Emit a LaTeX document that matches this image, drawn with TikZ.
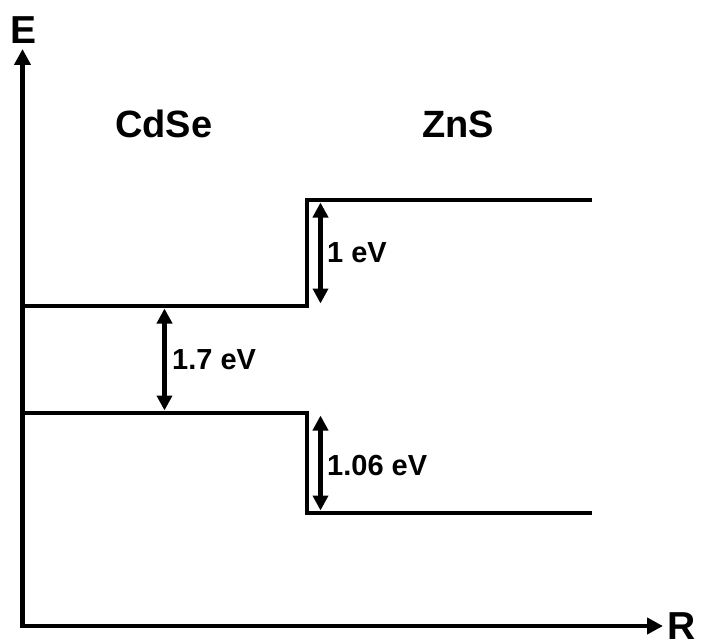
\documentclass[tikz,border=0pt]{standalone}
\usepackage{fontspec}
\setmainfont{Liberation Sans}
\usetikzlibrary{arrows.meta}
\begin{document}
\begin{tikzpicture}[x=1pt,y=-1pt,
  axis/.style={line width=4.7pt, line join=miter,
    {Triangle[length=16pt,width=16pt]}-{Triangle[length=16pt,width=16pt]}},
  band/.style={line width=4.7pt, line join=miter},
  gap/.style={line width=4.5pt,
    {Triangle[length=15pt,width=15pt]}-{Triangle[length=15pt,width=15pt]}},
  big/.style={inner sep=0pt, anchor=base west, font=\bfseries\fontsize{38}{40}\selectfont},
  axlab/.style={inner sep=0pt, anchor=base west, font=\bfseries\fontsize{39}{41}\selectfont},
  small/.style={inner sep=0pt, anchor=base west, font=\bfseries\fontsize{29}{31}\selectfont}]
\useasboundingbox (0,0) rectangle (702,642);
% axes
\coordinate (O) at (22.5,626);
\coordinate (Etip) at (22.5,49);
\coordinate (Rtip) at (663,626);
\draw[axis] (Etip) -- (O) -- (Rtip);
\node[axlab] (E) at (10,44) {E};
\node[axlab] (R) at (667,639) {R};
% materials
\node[big] (cdse) at (115,137) {CdSe};
\node[big] (zns) at (422,137) {ZnS};
% conduction band
\coordinate (c1) at (22.5,306);
\coordinate (c2) at (307,306);
\coordinate (c3) at (307,200);
\coordinate (c4) at (592,200);
\draw[band] (c1) -- (c2) -- (c3) -- (c4);
% valence band
\coordinate (v1) at (22.5,413);
\coordinate (v2) at (307,413);
\coordinate (v3) at (307,513);
\coordinate (v4) at (592,513);
\draw[band] (v1) -- (v2) -- (v3) -- (v4);
% gap arrows
\coordinate (g1a) at (164.5,308.5);
\coordinate (g1b) at (164.5,410.5);
\draw[gap] (g1a) -- (g1b);
\coordinate (g2a) at (320.5,202.5);
\coordinate (g2b) at (320.5,303.5);
\draw[gap] (g2a) -- (g2b);
\coordinate (g3a) at (320.5,415.5);
\coordinate (g3b) at (320.5,510.5);
\draw[gap] (g3a) -- (g3b);
% labels
\node[small] (l1) at (172,369) {1.7 eV};
\node[small] (l2) at (327,262) {1 eV};
\node[small] (l3) at (327,475) {1.06 eV};
\end{tikzpicture}
\end{document}
